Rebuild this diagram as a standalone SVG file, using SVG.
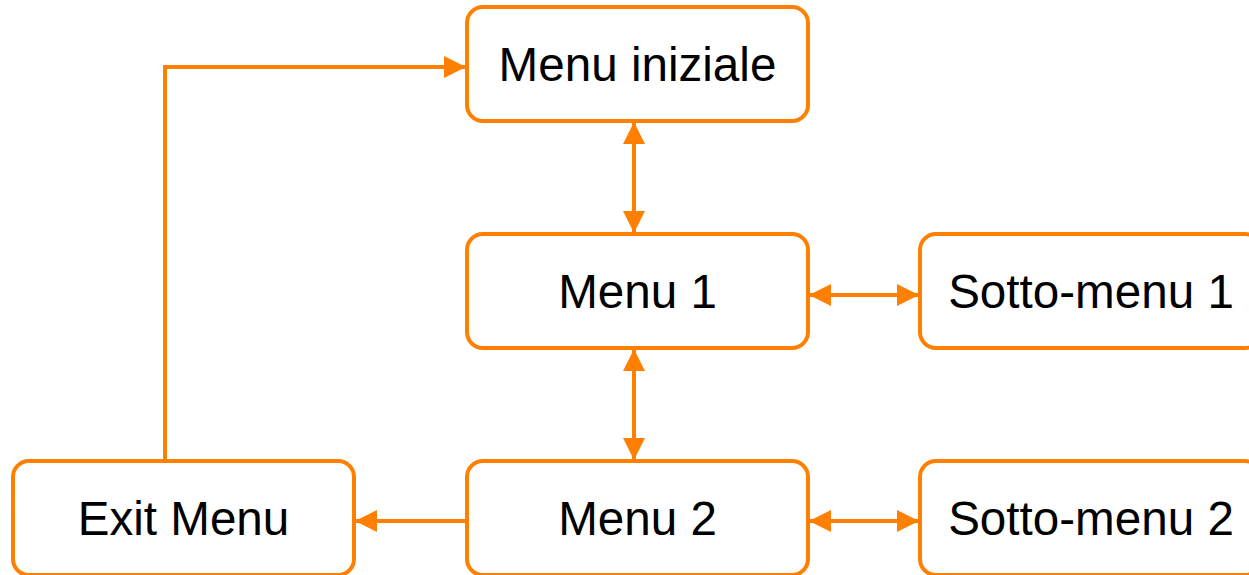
<svg xmlns="http://www.w3.org/2000/svg" width="1249" height="575" viewBox="0 0 1249 575">
<style>
.box{fill:#fff;stroke:#ff8000;stroke-width:4}
.lbl{font-family:"Liberation Sans",Arial,sans-serif;font-size:47.6px;fill:#000;text-anchor:middle}
.con{fill:none;stroke:#ff8000;stroke-width:4}
</style>
<defs>
<marker id="ah" markerUnits="userSpaceOnUse" markerWidth="22" markerHeight="24" viewBox="0 0 22 24" refX="21" refY="12" orient="auto-start-reverse">
<path d="M0,1 L22,12 L0,23 Z" fill="#ff8000"/>
</marker>
</defs>
<rect width="1249" height="575" fill="#fff"/>
<g id="connectors">
<path class="con" d="M634,123 V232" marker-start="url(#ah)" marker-end="url(#ah)"/>
<path class="con" d="M634,350 V459" marker-start="url(#ah)" marker-end="url(#ah)"/>
<path class="con" d="M810,295 H918" marker-start="url(#ah)" marker-end="url(#ah)"/>
<path class="con" d="M810,521 H918" marker-start="url(#ah)" marker-end="url(#ah)"/>
<path class="con" d="M465,521 H356" marker-end="url(#ah)"/>
<path class="con" d="M165,459 V67 H465" marker-end="url(#ah)"/>
</g>
<g id="menu-iniziale"><rect class="box" x="467" y="7" width="341" height="114" rx="16"/><text class="lbl" x="637.5" y="81">Menu iniziale</text></g>
<g id="menu-1"><rect class="box" x="467" y="234" width="341" height="114" rx="16"/><text class="lbl" x="637.5" y="308">Menu 1</text></g>
<g id="menu-2"><rect class="box" x="467" y="461" width="341" height="114" rx="16"/><text class="lbl" x="637.5" y="535">Menu 2</text></g>
<g id="sotto-menu-1"><rect class="box" x="920" y="234" width="341" height="114" rx="16"/><text class="lbl" x="1091" y="308">Sotto-menu 1</text></g>
<g id="sotto-menu-2"><rect class="box" x="920" y="461" width="341" height="114" rx="16"/><text class="lbl" x="1091" y="535">Sotto-menu 2</text></g>
<g id="exit-menu"><rect class="box" x="13" y="461" width="341" height="114" rx="16"/><text class="lbl" x="183.5" y="535">Exit Menu</text></g>
</svg>
